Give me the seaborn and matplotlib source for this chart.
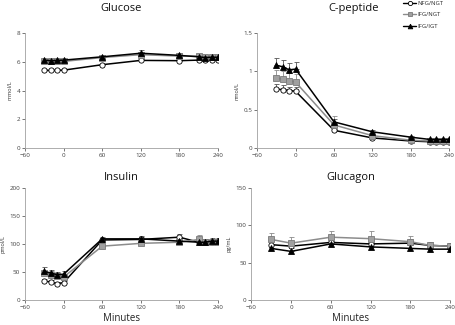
import numpy as np
import pandas as pd
import matplotlib
matplotlib.use("Agg")
import matplotlib.pyplot as plt
import seaborn as sns
from matplotlib.lines import Line2D

sns.set_theme(style="white")
plt.rcParams['font.family'] = ['Open Sans', 'DejaVu Sans']

groups = ["NFG/NGT", "IFG/NGT", "IFG/IGT"]
times = [-30, -20, -10, 0, 60, 120, 180, 210, 220, 230, 240]
times_glucagon = [-30, 0, 60, 120, 180, 210, 240]

glucose = {
    "NFG/NGT": [5.4, 5.4, 5.4, 5.42, 5.8, 6.1, 6.08, 6.12, 6.15, 6.15, 6.15],
    "IFG/NGT": [6.08, 6.03, 6.03, 6.03, 6.3, 6.5, 6.4, 6.4, 6.35, 6.35, 6.35],
    "IFG/IGT": [6.12, 6.08, 6.1, 6.12, 6.35, 6.6, 6.45, 6.35, 6.3, 6.32, 6.32],
}
glucose_err = {
    "NFG/NGT": [0.08] * 11,
    "IFG/NGT": [0.1, 0.1, 0.1, 0.1, 0.12, 0.2, 0.2, 0.15, 0.12, 0.12, 0.12],
    "IFG/IGT": [0.1, 0.1, 0.1, 0.1, 0.12, 0.25, 0.2, 0.12, 0.12, 0.12, 0.12],
}
cpeptide = {
    "NFG/NGT": [0.77, 0.76, 0.75, 0.74, 0.23, 0.13, 0.09, 0.08, 0.08, 0.08, 0.08],
    "IFG/NGT": [0.91, 0.90, 0.88, 0.86, 0.30, 0.16, 0.10, 0.09, 0.09, 0.09, 0.09],
    "IFG/IGT": [1.08, 1.06, 1.02, 1.03, 0.34, 0.21, 0.14, 0.11, 0.11, 0.11, 0.11],
}
cpeptide_err = {
    "NFG/NGT": [0.06, 0.06, 0.05, 0.05, 0.02, 0.01, 0.01, 0.01, 0.01, 0.01, 0.01],
    "IFG/NGT": [0.11, 0.11, 0.1, 0.1, 0.12, 0.03, 0.02, 0.01, 0.01, 0.01, 0.01],
    "IFG/IGT": [0.1, 0.09, 0.09, 0.09, 0.04, 0.03, 0.02, 0.01, 0.01, 0.01, 0.01],
}
insulin = {
    "NFG/NGT": [34, 32, 29, 31, 107, 108, 112, 103, 103, 104, 105],
    "IFG/NGT": [48, 45, 43, 41, 96, 101, 103, 108, 103, 104, 104],
    "IFG/IGT": [51, 48, 45, 46, 109, 109, 105, 103, 103, 105, 105],
}
insulin_err = {
    "NFG/NGT": [4, 4, 3, 3, 4, 4, 6, 4, 4, 4, 4],
    "IFG/NGT": [6, 6, 5, 5, 5, 5, 5, 8, 5, 5, 5],
    "IFG/IGT": [7, 6, 5, 5, 4, 5, 5, 5, 5, 5, 5],
}
glucagon = {
    "NFG/NGT": [74, 72, 77, 75, 76, 73, 72],
    "IFG/NGT": [81, 76, 84, 82, 78, 73, 72],
    "IFG/IGT": [69, 65, 75, 71, 69, 68, 68],
}
glucagon_err = {
    "NFG/NGT": [5, 5, 5, 5, 5, 4, 4],
    "IFG/NGT": [8, 8, 8, 10, 8, 4, 4],
    "IFG/IGT": [4, 4, 4, 4, 4, 3, 3],
}

styles = {
    "NFG/NGT": dict(color="black", marker="o", mfc="white", mec="black", ms=3.8),
    "IFG/NGT": dict(color="#8c8c8c", marker="s", mfc="#a0a0a0", mec="#7a7a7a", ms=4.4),
    "IFG/IGT": dict(color="black", marker="^", mfc="black", mec="black", ms=4.2),
}

fig = plt.figure(figsize=(4.56, 3.25), dpi=100)

panels = [
    ("Glucose", "mmol/L", times, glucose, glucose_err, (0, 8), [0, 2, 4, 6, 8], [0, 2, 4, 6, 8], [0.055, 0.545, 0.423, 0.353], False),
    ("C-peptide", "nmol/L", times, cpeptide, cpeptide_err, (0, 1.5), [0, 0.5, 1, 1.5], ["0", "0.5", "1", "1.5"], [0.564, 0.545, 0.421, 0.353], False),
    ("Insulin", "pmol/L", times, insulin, insulin_err, (0, 200), [0, 50, 100, 150, 200], [0, 50, 100, 150, 200], [0.055, 0.077, 0.423, 0.345], True),
    ("Glucagon", "pg/mL", times_glucagon, glucagon, glucagon_err, (0, 150), [0, 50, 100, 150], [0, 50, 100, 150], [0.551, 0.077, 0.436, 0.345], True),
]

for title, ylabel, t, vals, errs, ylim, yt, ytl, rect, xlab in panels:
    ax = fig.add_axes(rect)
    rows = []
    for g in groups:
        for ti, v in zip(t, vals[g]):
            rows.append({"time": ti, "value": v, "group": g})
    df = pd.DataFrame(rows)
    for g in groups:
        st = styles[g]
        sub = df[df.group == g]
        ax.errorbar(sub["time"], sub["value"], yerr=[np.zeros(len(sub)), errs[g]],
                    fmt="none", ecolor="#8a8a8a" if g == "IFG/NGT" else "#555555",
                    elinewidth=0.6, capsize=1.8, capthick=0.6, zorder=1)
        sns.lineplot(data=sub, x="time", y="value", ax=ax, color=st["color"],
                     marker=st["marker"], markerfacecolor=st["mfc"],
                     markeredgecolor=st["mec"], markersize=st["ms"],
                     markeredgewidth=0.6, linewidth=1.1, legend=False, zorder=2)
    ax.set_xlim(-60, 240)
    ax.set_ylim(*ylim)
    ax.set_xticks([-60, 0, 60, 120, 180, 240])
    ax.set_yticks(yt)
    ax.set_yticklabels(ytl)
    ax.tick_params(axis="both", labelsize=4.5, colors="#404040", length=2, width=0.5,
                   direction="out", pad=1.5, bottom=True, left=True)
    for s in ["top", "right"]:
        ax.spines[s].set_visible(False)
    for s in ["left", "bottom"]:
        ax.spines[s].set_color("#a0a0a0")
        ax.spines[s].set_linewidth(0.6)
    ax.set_title(title, fontsize=8, pad=16 if not xlab else 6, color="#111111")
    ax.set_ylabel(ylabel, fontsize=4, labelpad=3, color="#333333")
    if xlab:
        ax.set_xlabel("Minutes", fontsize=7, labelpad=2, color="#222222")
    else:
        ax.set_xlabel("")

handles = []
for g in groups:
    st = styles[g]
    handles.append(Line2D([0], [0], color=st["color"], marker=st["marker"],
                          markerfacecolor=st["mfc"], markeredgecolor=st["mec"],
                          markersize=st["ms"] * 0.8, markeredgewidth=0.6, linewidth=1.0))
fig.legend(handles, groups, loc="upper left", bbox_to_anchor=(0.875, 1.01),
           frameon=False, fontsize=4.2, handlelength=2.2, labelspacing=1.1,
           handletextpad=0.3, borderpad=0.2)

fig.savefig("out.png", dpi=100)
